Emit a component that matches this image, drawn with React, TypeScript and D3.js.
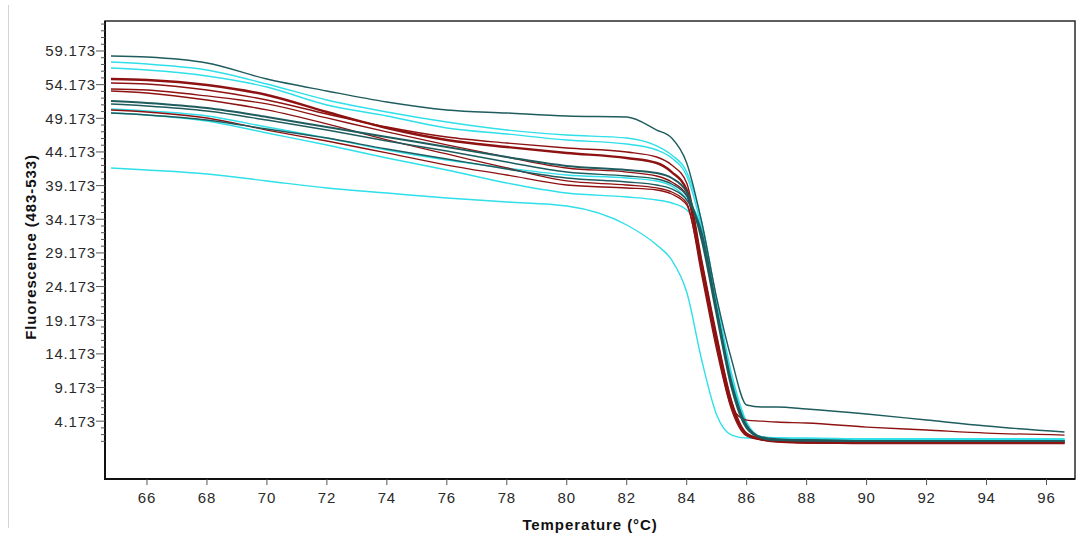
import React from "react";
import * as d3 from "d3";

// Temperature grid (°C) shared by all melting curves
const temps = [64.8, 66, 68, 70, 72, 74, 76, 78, 80, 82, 83, 83.5, 84, 84.5, 85, 85.5, 86, 86.5, 87, 88, 90, 92, 94, 96.6];

// Fluorescence (483-533) readings per sample
const tealA = [58.43, 58.28, 57.39, 55.01, 53.23, 51.59, 50.41, 49.96, 49.52, 49.37, 47.43, 46.24, 42.53, 33.77, 22.47, 13.26, 6.57, 6.27, 6.27, 5.98, 5.24, 4.34, 3.45, 2.56];
const tealB = [51.74, 51.45, 50.70, 49.37, 47.88, 46.39, 44.91, 43.42, 42.09, 41.49, 41.04, 40.30, 38.22, 31.09, 19.95, 9.10, 3.15, 1.67, 1.37, 1.37, 1.22, 1.22, 1.22, 1.22];
const tealC = [51.30, 51.00, 50.26, 48.92, 47.43, 45.80, 44.31, 42.68, 41.19, 40.60, 40.15, 39.41, 37.63, 31.83, 20.69, 9.54, 3.45, 1.67, 1.37, 1.22, 1.22, 1.22, 1.22, 1.22];
const tealD = [49.96, 49.66, 48.92, 47.58, 46.24, 44.61, 43.13, 41.64, 40.30, 39.71, 39.26, 38.67, 37.03, 32.28, 20.99, 9.99, 3.60, 1.82, 1.52, 1.37, 1.22, 1.22, 1.22, 1.22];

const cyanA = [57.54, 57.24, 56.35, 54.27, 51.89, 50.11, 48.62, 47.43, 46.69, 46.24, 45.06, 43.72, 41.19, 33.77, 22.17, 11.18, 4.05, 1.82, 1.67, 1.52, 1.52, 1.52, 1.52, 1.37];
const cyanB = [56.65, 56.35, 55.46, 53.82, 51.15, 49.52, 47.73, 46.84, 45.95, 45.35, 44.46, 43.27, 40.60, 32.87, 21.43, 10.44, 3.75, 1.67, 1.52, 1.37, 1.37, 1.22, 1.22, 1.22];
const cyanC = [50.55, 50.26, 49.52, 47.88, 46.24, 44.46, 42.98, 41.79, 40.75, 40.30, 39.86, 39.11, 37.18, 32.87, 21.43, 10.44, 3.75, 1.82, 1.52, 1.37, 1.37, 1.37, 1.37, 1.37];
const cyanD = [41.79, 41.49, 40.90, 39.86, 38.82, 38.07, 37.33, 36.74, 36.14, 33.32, 30.35, 28.12, 23.36, 13.26, 5.09, 2.11, 1.67, 1.67, 1.67, 1.67, 1.52, 1.52, 1.52, 1.52];
const cyanE = [49.96, 49.66, 48.77, 46.99, 45.21, 43.27, 41.49, 39.56, 38.07, 37.48, 37.03, 36.59, 35.55, 31.83, 20.69, 9.54, 3.45, 1.82, 1.67, 1.52, 1.52, 1.52, 1.52, 1.52];

const redA = [55.01, 54.86, 54.12, 52.63, 50.11, 47.73, 45.95, 44.91, 44.02, 43.27, 42.53, 41.19, 38.52, 27.38, 16.23, 6.72, 2.26, 1.52, 1.22, 1.07, 0.93, 0.93, 0.93, 0.93];
const redB = [54.42, 54.27, 53.38, 51.89, 49.81, 47.88, 46.39, 45.50, 44.76, 44.17, 43.42, 42.23, 39.56, 28.12, 16.97, 7.17, 2.41, 1.52, 1.37, 1.22, 1.22, 1.22, 1.22, 1.07];
const redC = [53.53, 53.38, 52.49, 51.30, 49.22, 47.14, 45.21, 43.42, 41.79, 41.19, 40.60, 39.71, 37.78, 26.63, 15.49, 6.27, 4.34, 4.19, 4.05, 3.90, 3.30, 2.86, 2.41, 2.11];
const redD = [53.23, 52.93, 51.89, 50.41, 48.33, 45.95, 43.87, 41.79, 39.86, 39.26, 38.82, 38.22, 36.59, 25.89, 14.74, 5.83, 1.97, 1.37, 1.22, 0.93, 0.93, 0.93, 0.93, 0.93];
const redE = [50.41, 50.11, 49.22, 47.43, 45.80, 44.02, 42.23, 40.75, 39.26, 38.82, 38.52, 37.92, 36.29, 26.63, 15.49, 6.27, 2.11, 1.37, 1.07, 0.93, 0.93, 0.93, 0.93, 0.93];

const xTicks = [66, 68, 70, 72, 74, 76, 78, 80, 82, 84, 86, 88, 90, 92, 94, 96];
const yTickLabels = ["4.173", "9.173", "14.173", "19.173", "24.173", "29.173", "34.173", "39.173", "44.173", "49.173", "54.173", "59.173"];

const CYAN = "#2fdfe9";
const TEAL = "#1f5c5e";
const RED = "#8e1212";

const series = [
  { values: cyanA, color: CYAN, w: 1.4 },
  { values: cyanB, color: CYAN, w: 1.4 },
  { values: cyanD, color: CYAN, w: 1.4 },
  { values: cyanC, color: CYAN, w: 1.4 },
  { values: cyanE, color: CYAN, w: 1.4 },
  { values: redB, color: RED, w: 1.4 },
  { values: redC, color: RED, w: 1.3 },
  { values: redD, color: RED, w: 1.3 },
  { values: redE, color: RED, w: 1.3 },
  { values: redA, color: RED, w: 2.4 },
  { values: tealA, color: TEAL, w: 1.4 },
  { values: tealB, color: TEAL, w: 2.0 },
  { values: tealC, color: TEAL, w: 1.4 },
  { values: tealD, color: TEAL, w: 1.4 },
];

const W = 1081;
const H = 538;
const left = 105, right = 1075, top = 21, bottom = 479;

export default function App() {
  const x = d3.scaleLinear().domain([64.6, 96.95]).range([left, right]);
  const y = d3.scaleLinear().domain([-4.42, 63.63]).range([bottom, top]);
  const line = d3
    .line<number>()
    .x((_, i) => x(temps[i]))
    .y((v) => y(v))
    .curve(d3.curveMonotoneX);

  const majorVals = yTickLabels.map((s) => parseFloat(s));
  const minorVals: number[] = [];
  for (let v = 1.173; v <= 63.2; v += 1) {
    const r = Math.round(v * 1000) / 1000;
    if (!majorVals.some((m) => Math.abs(m - r) < 0.01)) minorVals.push(r);
  }

  const font = "'Liberation Sans', Arial, sans-serif";

  return (
    <svg
      width={W}
      height={H}
      style={{ position: "absolute", left: 0, top: 0, background: "#fff" }}
      fontFamily={font}
    >
      <rect x={0} y={0} width={W} height={H} fill="#fff" />
      <line x1={8.5} x2={8.5} y1={5} y2={528} stroke="#d4d4d4" strokeWidth={1} />

      <clipPath id="plotClip">
        <rect x={left} y={top} width={right - left} height={bottom - top} />
      </clipPath>
      <g clipPath="url(#plotClip)">
        {series.map((s, i) => (
          <path
            key={i}
            d={line(s.values) || ""}
            fill="none"
            stroke={s.color}
            strokeWidth={s.w}
            strokeLinejoin="round"
          />
        ))}
      </g>

      <rect
        x={left}
        y={top}
        width={right - left}
        height={bottom - top}
        fill="none"
        stroke="#2a2a2a"
        strokeWidth={1.5}
      />
      <line x1={left} x2={left} y1={top} y2={bottom + 1} stroke="#111" strokeWidth={2} />
      <line x1={left - 1} x2={right} y1={bottom} y2={bottom} stroke="#111" strokeWidth={2} />

      {/* Y axis ticks */}
      {minorVals.map((v, i) => (
        <line key={"m" + i} x1={left - 4} x2={left} y1={y(v)} y2={y(v)} stroke="#555" strokeWidth={1} />
      ))}
      {yTickLabels.map((lab, i) => (
        <g key={"y" + i}>
          <line x1={left - 9} x2={left} y1={y(majorVals[i])} y2={y(majorVals[i])} stroke="#555" strokeWidth={1} />
          <text
            x={96}
            y={y(majorVals[i])}
            dy="0.36em"
            textAnchor="end"
            fontSize={15}
            letterSpacing={0.8}
            fill="#2a2a2a"
          >
            {lab}
          </text>
        </g>
      ))}

      {/* X axis ticks */}
      {xTicks.map((t) => (
        <g key={"x" + t}>
          <line x1={x(t)} x2={x(t)} y1={bottom} y2={bottom + 6} stroke="#555" strokeWidth={1} />
          <text x={x(t)} y={503} textAnchor="middle" fontSize={15} letterSpacing={0.8} fill="#2a2a2a">
            {t}
          </text>
        </g>
      ))}

      <text x={590} y={530} textAnchor="middle" fontSize={15} fontWeight="bold" letterSpacing={0.9} fill="#111">
        Temperature (°C)
      </text>
      <text
        transform={`translate(36, 247) rotate(-90)`}
        textAnchor="middle"
        fontSize={15}
        fontWeight="bold"
        letterSpacing={0.9}
        fill="#111"
      >
        Fluorescence (483-533)
      </text>
    </svg>
  );
}
